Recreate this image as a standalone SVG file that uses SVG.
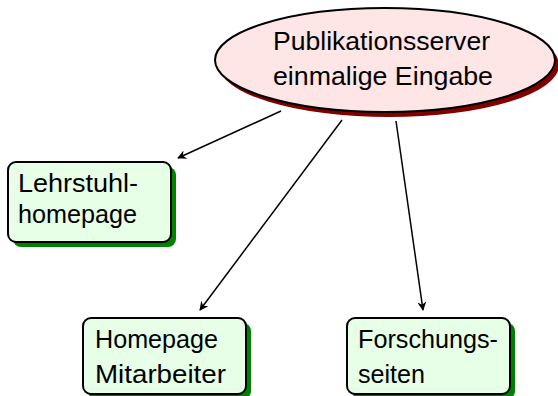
<svg xmlns="http://www.w3.org/2000/svg" width="558" height="396" viewBox="0 0 558 396">
<style>
text{font-family:"Liberation Sans",Arial,sans-serif;font-size:26px;fill:#000}
.box{fill:#e6ffe6;stroke:#000;stroke-width:2}
.bsh{fill:#008000}
.ell{fill:#ffe6e6;stroke:#000;stroke-width:2}
.esh{fill:#800000}
.con{stroke:#000;stroke-width:1.5;fill:none;marker-end:url(#ah)}
</style>
<defs>
<marker id="ah" viewBox="0 0 10 10" refX="9" refY="5" markerWidth="9" markerHeight="9" markerUnits="userSpaceOnUse" orient="auto">
<path d="M0,0 L10,5 L0,10 L3,5 Z" fill="#000"/>
</marker>
</defs>
<rect width="558" height="396" fill="#fff"/>
<g id="connectors">
<line class="con" x1="281" y1="111" x2="178" y2="158"/>
<line class="con" x1="342" y1="120" x2="200" y2="310"/>
<line class="con" x1="396" y1="121" x2="423" y2="310"/>
</g>
<g id="server">
<ellipse class="esh" cx="389" cy="65" rx="170" ry="52"/>
<ellipse class="ell" cx="385" cy="60" rx="170" ry="52"/>
<text x="273" y="50" textLength="217" lengthAdjust="spacingAndGlyphs">Publikationsserver</text>
<text x="273" y="85" textLength="220" lengthAdjust="spacingAndGlyphs">einmalige Eingabe</text>
</g>
<g id="lehrstuhl">
<rect class="bsh" x="13" y="167" width="163" height="80" rx="8"/>
<rect class="box" x="8" y="162" width="163" height="80" rx="8"/>
<text x="18" y="192" textLength="120" lengthAdjust="spacingAndGlyphs">Lehrstuhl-</text>
<text x="18" y="223" textLength="119" lengthAdjust="spacingAndGlyphs">homepage</text>
</g>
<g id="mitarbeiter">
<rect class="bsh" x="88" y="323" width="163" height="76" rx="8"/>
<rect class="box" x="83" y="318" width="163" height="76" rx="8"/>
<text x="95" y="348" textLength="123" lengthAdjust="spacingAndGlyphs">Homepage</text>
<text x="95" y="383" textLength="131" lengthAdjust="spacingAndGlyphs">Mitarbeiter</text>
</g>
<g id="forschung">
<rect class="bsh" x="352" y="323" width="163" height="76" rx="8"/>
<rect class="box" x="347" y="318" width="163" height="76" rx="8"/>
<text x="358" y="348" textLength="140" lengthAdjust="spacingAndGlyphs">Forschungs-</text>
<text x="358" y="383" textLength="67" lengthAdjust="spacingAndGlyphs">seiten</text>
</g>
</svg>
